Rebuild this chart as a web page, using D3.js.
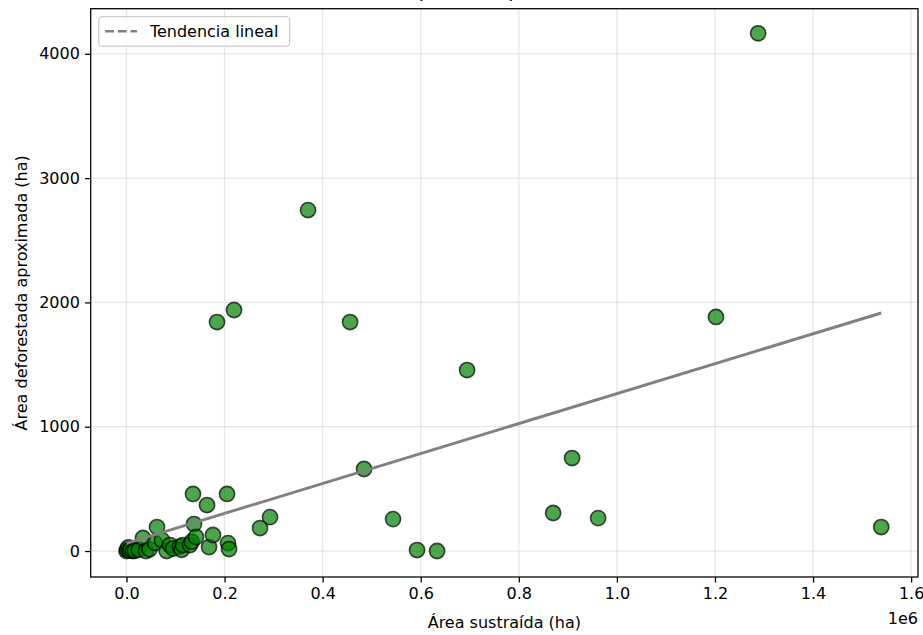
<!DOCTYPE html>
<html>
<head>
<meta charset="utf-8">
<script src="https://cdn.jsdelivr.net/npm/d3@7/dist/d3.min.js"></script>
<style>
  html, body { margin: 0; padding: 0; background: #fff; }
  svg { display: block; font-family: "DejaVu Sans", sans-serif; }
</style>
</head>
<body>
<svg id="chart" width="923" height="635"></svg>
<script>
// ---- Data ----
const areaSustraida = [0, 1500, 4000, 6000, 9000, 13000, 17000, 25000, 33600, 39800, 47000, 58000, 62200, 72400,
  82000, 88700, 95000, 109000, 112600, 115000, 129500, 133000, 135600, 137700, 141700, 164200, 168300, 176400,
  184600, 205000, 207000, 209100, 219300, 272300, 292700, 370200, 455900, 484400, 543500, 592500, 633300,
  694500, 870000, 908600, 961700, 1202000, 1288000, 1539000];
const areaDeforestada = [0, 12, 30, 3, 18, 0, 2, 10, 105, 0, 14, 64, 193, 88,
  0, 48, 20, 35, 10, 48, 48, 75, 459, 217, 113, 370, 32, 129,
  1842, 459, 64, 16, 1939, 185, 273, 2743, 1842, 660, 257, 8, 0,
  1456, 306, 748, 265, 1883, 4165, 193];
// linear trend coefficients
const trendIntercept = 62;
const trendSlope = 0.001204;
const xTicks = [0, 200000, 400000, 600000, 800000, 1000000, 1200000, 1400000, 1600000];
const xTickLabels = ["0.0", "0.2", "0.4", "0.6", "0.8", "1.0", "1.2", "1.4", "1.6"];
const yTicks = [0, 1000, 2000, 3000, 4000];
const yTickLabels = ["0", "1000", "2000", "3000", "4000"];
const titleText = "Comparación por área (ha)";
const xLabel = "Área sustraída (ha)";
const yLabel = "Área deforestada aproximada (ha)";
const legendLabel = "Tendencia lineal";

// ---- Layout ----
const svg = d3.select("#chart");
const L = 90.7, R = 918, T = 8.7, B = 577;
const x = d3.scaleLinear().domain([-73000, 1614000]).range([L, R]);
const y = d3.scaleLinear().domain([-209, 4363]).range([B, T]);
const points = areaSustraida.map((v, i) => ({x: v, y: areaDeforestada[i]}));

// title (mostly outside the picture, as in reference)
svg.append("text").attr("x", (L + R) / 2).attr("y", -3).attr("text-anchor", "middle")
  .attr("font-size", 19.2).attr("fill", "#000").text(titleText);

// grid
const grid = svg.append("g");
grid.selectAll(".gx").data(xTicks).join("line")
  .attr("x1", d => x(d)).attr("x2", d => x(d)).attr("y1", T).attr("y2", B)
  .attr("stroke", "#b0b0b0").attr("stroke-opacity", 0.3).attr("stroke-width", 1.28);
grid.selectAll(".gy").data(yTicks).join("line")
  .attr("y1", d => y(d)).attr("y2", d => y(d)).attr("x1", L).attr("x2", R)
  .attr("stroke", "#b0b0b0").attr("stroke-opacity", 0.3).attr("stroke-width", 1.28);

// points
svg.append("g").selectAll("circle").data(points).join("circle")
  .attr("cx", d => x(d.x)).attr("cy", d => y(d.y)).attr("r", 7.6)
  .attr("fill", "green").attr("fill-opacity", 0.7)
  .attr("stroke", "black").attr("stroke-opacity", 0.7).attr("stroke-width", 1.6);

// trend line
const xr = d3.extent(areaSustraida);
svg.append("line")
  .attr("x1", x(xr[0])).attr("y1", y(trendIntercept + trendSlope * xr[0]))
  .attr("x2", x(xr[1])).attr("y2", y(trendIntercept + trendSlope * xr[1]))
  .attr("stroke", "gray").attr("stroke-width", 2.9);

// axes
const xAxis = d3.axisBottom(x).tickValues(xTicks).tickFormat((d, i) => xTickLabels[i])
  .tickSize(5.6).tickPadding(5.2).tickSizeOuter(0);
const yAxis = d3.axisLeft(y).tickValues(yTicks).tickFormat((d, i) => yTickLabels[i])
  .tickSize(5.6).tickPadding(5.2).tickSizeOuter(0);
const gx = svg.append("g").attr("transform", `translate(0,${B})`).call(xAxis);
const gy = svg.append("g").attr("transform", `translate(${L},0)`).call(yAxis);
[gx, gy].forEach(g => {
  g.select(".domain").remove();
  g.selectAll(".tick line").attr("stroke", "#000").attr("stroke-width", 1.28);
  g.selectAll(".tick text").attr("font-size", 16).attr("fill", "#000")
    .attr("font-family", "DejaVu Sans");
});

// spines
svg.append("rect").attr("x", L).attr("y", T).attr("width", R - L).attr("height", B - T)
  .attr("fill", "none").attr("stroke", "#000").attr("stroke-width", 1.28);

// offset text
svg.append("text").attr("x", R).attr("y", 624).attr("text-anchor", "end")
  .attr("font-size", 16).attr("fill", "#000").text("1e6");

// axis labels
svg.append("text").attr("x", (L + R) / 2).attr("y", 628).attr("text-anchor", "middle")
  .attr("font-size", 16).attr("fill", "#000").text(xLabel);
svg.append("text").attr("transform", `translate(27,${(T + B) / 2}) rotate(-90)`)
  .attr("text-anchor", "middle").attr("font-size", 16).attr("fill", "#000").text(yLabel);

// legend
const lg = svg.append("g");
const lx = L + 8, ly = T + 8;
lg.append("rect").attr("x", lx).attr("y", ly).attr("width", 191).attr("height", 29.5)
  .attr("rx", 3.5).attr("fill", "#fff").attr("fill-opacity", 0.8)
  .attr("stroke", "#cccccc").attr("stroke-width", 1.28);
lg.append("line").attr("x1", lx + 6.4).attr("x2", lx + 38.4).attr("y1", ly + 14.6).attr("y2", ly + 14.6)
  .attr("stroke", "gray").attr("stroke-width", 2.4).attr("stroke-dasharray", "8.9,3.8");
lg.append("text").attr("x", lx + 51.2).attr("y", ly + 20.2).attr("font-size", 16).attr("fill", "#000")
  .text(legendLabel);
</script>
</body>
</html>
